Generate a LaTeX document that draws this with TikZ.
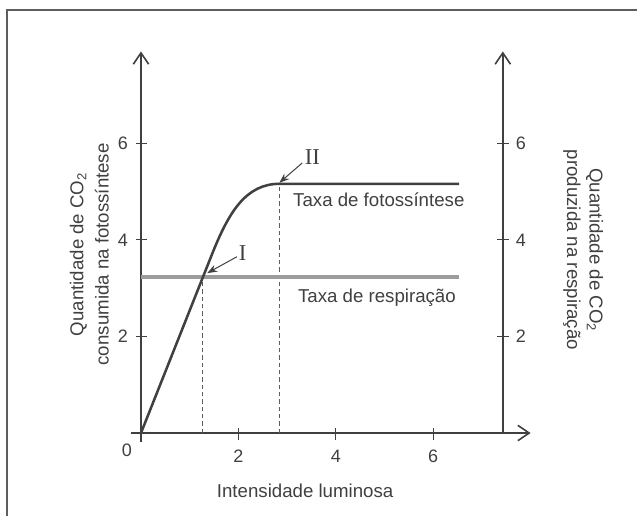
\documentclass[tikz,border=0pt]{standalone}
\usepackage{fontspec}
\setmainfont{Liberation Sans}
\newfontfamily\romfont{Liberation Serif}
\usetikzlibrary{arrows.meta}
\definecolor{ink}{HTML}{404040}
\definecolor{resp}{HTML}{9C9C9C}
\definecolor{framec}{HTML}{5E5E5E}
\begin{document}
\begin{tikzpicture}[x=36.525pt,y=36.225pt,
  axis/.style={draw=ink,line width=1.2pt},
  axarrow/.style={-{Straight Barb[length=8.5pt,width=11.5pt,line width=1.2pt]}},
  tickmark/.style={draw=ink,line width=1pt},
  ticklab/.style={text=ink,font=\fontsize{13.5}{16}\selectfont,inner sep=0pt},
  lab/.style={text=ink,font=\fontsize{14}{17}\selectfont,inner sep=0pt},
  ylab/.style={text=ink,font=\fontsize{14}{17}\selectfont,align=center,inner sep=0pt},
  roman/.style={text=ink,font=\romfont\fontsize{17}{20}\selectfont,inner sep=0pt},
  guide/.style={draw=ink!85,line width=0.7pt,dash pattern=on 3.2pt off 2.3pt},
  pointer/.style={draw=ink,line width=0.75pt,-{Stealth[length=7.5pt,width=5.5pt]}},
  curve/.style={draw=ink,line width=1.9pt,line join=round},
  respline/.style={draw=resp,line width=2.3pt}
]
\useasboundingbox (-2.895,-1.718) rectangle (10.185,8.965);
% frame
\draw[framec,line width=1.6pt] (10.3,8.758) -- (-2.752,8.758) -- (-2.752,-1.8);
% coordinates
\coordinate (O) at (0,0);
\coordinate (ytop) at (0,7.9);
\coordinate (ybot) at (0,-0.19);
\coordinate (xleft) at (-0.2,0);
\coordinate (xright) at (8.0,0);
\coordinate (rbot) at (7.43,0);
\coordinate (rtop) at (7.43,7.9);
% axes
\draw[axis,axarrow] (ybot) -- (ytop);
\draw[axis,axarrow] (xleft) -- (xright);
\draw[axis,axarrow] (rbot) -- (rtop);
% ticks
\foreach \v in {2,4,6}{
  \draw[tickmark] (-0.1,\v) -- (0.12,\v);
  \draw[tickmark] (7.31,\v) -- (7.55,\v);
  \draw[tickmark] (\v,0.1) -- (\v,-0.15);
  \node[ticklab] (yl\v) at (-0.37,\v) {\v};
  \node[ticklab] (yr\v) at (7.8,\v) {\v};
  \node[ticklab] (xl\v) at (\v,-0.48) {\v};
}
\node[ticklab] (zero) at (-0.29,-0.35) {0};
% guides
\coordinate (gIb) at (1.27,0);
\coordinate (gIt) at (1.27,3.23);
\coordinate (gIIb) at (2.85,0);
\coordinate (gIIt) at (2.85,5.16);
\draw[guide] (gIb) -- (gIt);
\draw[guide] (gIIb) -- (gIIt);
% respiration
\coordinate (rs) at (0,3.23);
\coordinate (re) at (6.53,3.23);
\draw[respline] (rs) -- (re);
% photosynthesis
\coordinate (pe) at (6.53,5.16);
\draw[curve] (O) -- (1.45,3.68) .. controls (1.8,4.57) and (2.15,5.16) .. (2.85,5.16) -- (pe);
% labels
\node[lab,anchor=base west] (tf) at (3.12,4.70) {Taxa de fotossíntese};
\node[lab,anchor=base west] (tr) at (3.22,2.71) {Taxa de respiração};
\node[lab,anchor=base] (xt) at (3.37,-1.33) {Intensidade luminosa};
\node[ylab,rotate=90] (yt) at (-1.06,3.7) {Quantidade de CO\textsubscript{2}\\[2pt]consumida na fotossíntese};
\node[ylab,rotate=-90] (yrt) at (9.08,3.79) {Quantidade de CO\textsubscript{2}\\[0pt]produzida na respiração};
% roman markers
\node[roman] (mI) at (2.09,3.73) {I};
\node[roman] (mII) at (3.52,5.72) {II};
\coordinate (aI) at (1.97,3.65);
\coordinate (tI) at (1.36,3.31);
\coordinate (aII) at (3.31,5.59);
\coordinate (tII) at (2.84,5.18);
\draw[pointer] (aI) -- (tI);
\draw[pointer] (aII) -- (tII);
\end{tikzpicture}
\end{document}
